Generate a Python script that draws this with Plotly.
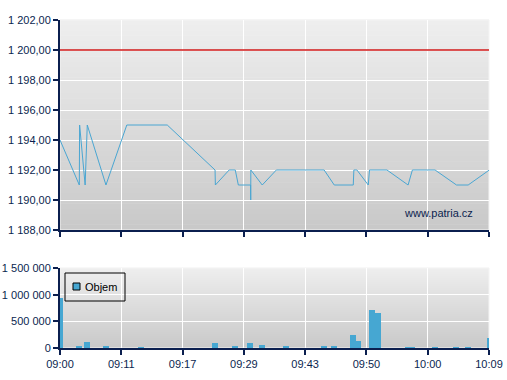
import plotly.graph_objects as go

# ---------------- data ----------------
time_labels = ["09:00", "09:11", "09:17", "09:29", "09:43", "09:50", "10:00", "10:09"]
tick_pos = [0, 10, 20, 30, 40, 50, 60, 70]

price_x = [0.0, 3.15, 3.2, 4.1, 4.45, 7.5, 10.9, 17.5, 25.3, 25.35, 27.6, 28.6, 29.1,
           31.1, 31.12, 31.14, 33.0, 35.3, 43.1, 44.75, 47.85, 47.95, 48.45, 50.3,
           50.5, 53.35, 56.8, 57.5, 61.2, 64.7, 66.6, 70.05]
price_y = [1194, 1191, 1195, 1191, 1195, 1191, 1195, 1195, 1192, 1191, 1192, 1192, 1191,
           1191, 1190, 1192, 1191, 1192, 1192, 1191, 1191, 1192, 1192, 1191,
           1192, 1192, 1191, 1192, 1192, 1191, 1191, 1192]

vol_x = [0.0, 3.1, 4.4, 7.5, 13.2, 25.3, 28.55, 31.0, 33.0, 36.9, 43.1, 44.7, 47.8,
         48.7, 50.9, 51.9, 56.7, 57.5, 61.2, 64.6, 66.6, 70.2]
vol_y = [943000, 40000, 112000, 20000, 15000, 95000, 20000, 95000, 65000, 40000, 40000,
         40000, 250000, 125000, 712000, 656000, 15000, 15000, 15000, 15000, 15000, 187000]

limit_price = 1200
legend_name = "Objem"
watermark = "www.patria.cz"

# ---------------- style ----------------
NAVY = "#0b1f4f"
LINE_BLUE = "#4aa6d2"
BAR_BLUE = "#46a7d2"
FONT = "Liberation Sans, Arial, sans-serif"

W, H = 507, 380
ML, MR, MT, MB = 60, 18, 20, 32
plot_h = H - MT - MB
top_dom = [(348 - 230) / plot_h, 1.0]
bot_dom = [0.0, (348 - 268) / plot_h]

fig = go.Figure()
fig.add_trace(go.Scatter(x=price_x, y=price_y, mode="lines",
                         line=dict(color=LINE_BLUE, width=1),
                         xaxis="x", yaxis="y", showlegend=False, hoverinfo="skip"))
fig.add_trace(go.Bar(x=vol_x, y=vol_y, width=0.95, name=legend_name,
                     marker=dict(color=BAR_BLUE, line_width=0),
                     xaxis="x2", yaxis="y2", showlegend=False))

axis_common = dict(showline=True, linecolor=NAVY, linewidth=2, ticks="outside",
                   ticklen=5, tickcolor=NAVY, tickwidth=2, showgrid=True,
                   gridcolor="white", gridwidth=1, zeroline=False, automargin=False,
                   tickfont=dict(family=FONT, size=11, color=NAVY))

shapes = []
# gradient backgrounds
N = 40
for xd, yd in (("x domain", "y domain"), ("x2 domain", "y2 domain")):
    for i in range(N):
        t = (i + 0.5) / N
        c = int(round(201 + (238 - 201) * t))
        shapes.append(dict(type="rect", xref=xd, yref=yd, x0=0, x1=1,
                           y0=i / N, y1=(i + 1) / N + 0.002,
                           fillcolor=f"rgb({c},{c},{c})", line_width=0, layer="below"))
    shapes.append(dict(type="rect", xref=xd, yref=yd, x0=0, x1=1, y0=0, y1=1,
                       line=dict(color="#f4f4f4", width=1), layer="below"))

# limit line
shapes.append(dict(type="line", xref="x domain", yref="y", x0=0, x1=1,
                   y0=limit_price, y1=limit_price,
                   line=dict(color="#d01818", width=1.3)))

# manual legend box
plot_w = W - ML - MR
def px_x(p):
    return (p - ML) / plot_w
def px_y(p):
    return (348 - p) / plot_h
shapes.append(dict(type="rect", xref="paper", yref="paper",
                   x0=px_x(65), x1=px_x(125), y0=px_y(301), y1=px_y(273),
                   line=dict(color="black", width=1), fillcolor="rgba(0,0,0,0)"))
shapes.append(dict(type="rect", xref="paper", yref="paper",
                   x0=px_x(73), x1=px_x(80), y0=px_y(290), y1=px_y(283),
                   line=dict(color="black", width=1), fillcolor=BAR_BLUE))

annotations = [
    dict(text=legend_name, xref="paper", yref="paper", x=px_x(83), y=px_y(287),
         xanchor="left", yanchor="middle", showarrow=False,
         font=dict(family=FONT, size=11, color="black")),
    dict(text=watermark, xref="paper", yref="paper", x=px_x(438), y=px_y(213),
         xanchor="center", yanchor="middle", showarrow=False,
         font=dict(family=FONT, size=11, color=NAVY)),
]

fig.update_layout(
    width=W, height=H,
    margin=dict(l=ML, r=MR, t=MT, b=MB),
    paper_bgcolor="white", plot_bgcolor="rgba(0,0,0,0)",
    separators=", ",
    showlegend=False,
    bargap=0,
    xaxis=dict(domain=[0, 1], anchor="y", range=[0, 70], tickvals=tick_pos,
               ticktext=time_labels, showticklabels=False, **axis_common),
    yaxis=dict(domain=top_dom, anchor="x", range=[1188, 1202], dtick=2,
               tickformat=",.2f", **axis_common),
    xaxis2=dict(domain=[0, 1], anchor="y2", range=[0, 70], tickvals=tick_pos,
                ticktext=time_labels, **axis_common),
    yaxis2=dict(domain=bot_dom, anchor="x2", range=[0, 1500000],
                tickvals=[0, 500000, 1000000, 1500000], tickformat=",d", **axis_common),
    shapes=shapes,
    annotations=annotations,
)

fig.write_html("out.html")
